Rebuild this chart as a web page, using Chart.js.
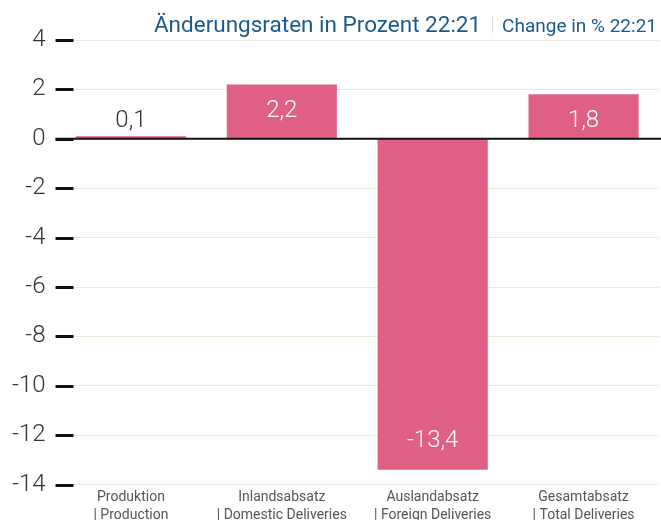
<!DOCTYPE html>
<html><head><meta charset="utf-8">
<script src="https://cdn.jsdelivr.net/npm/chart.js@4/dist/chart.umd.min.js"></script>
<style>html,body{margin:0;padding:0;background:#fff}#wrap{width:661px;height:520px;position:relative}</style>
</head><body><div id="wrap"><canvas id="c" width="661" height="520"></canvas></div>
<script>
const categories = [['Produktion','| Production'],['Inlandsabsatz','| Domestic Deliveries'],['Auslandabsatz','| Foreign Deliveries'],['Gesamtabsatz','| Total Deliveries']];
const changeValues = [0.1, 2.2, -13.4, 1.8];
const yTicks = [4, 2, 0, -2, -4, -6, -8, -10, -12, -14];
const titleMain = 'Änderungsraten in Prozent 22:21';
const titleSub = 'Change in % 22:21';

const FONT = 'Roboto';
const barColor = '#e06085';

const deco = {
  id: 'deco',
  afterDraw(chart) {
    const ctx = chart.ctx, y = chart.scales.y, ca = chart.chartArea;
    ctx.save();
    // y tick marks
    ctx.strokeStyle = '#111'; ctx.lineWidth = 3;
    y.ticks.forEach(t => {
      const py = Math.round(y.getPixelForValue(t.value)) + 0.5;
      ctx.beginPath(); ctx.moveTo(ca.left, py); ctx.lineTo(ca.left + 18, py); ctx.stroke();
    });
    // zero line
    ctx.lineWidth = 2;
    const z = y.getPixelForValue(0);
    ctx.beginPath(); ctx.moveTo(ca.left, z); ctx.lineTo(chart.width, z); ctx.stroke();
    // data labels
    const meta = chart.getDatasetMeta(0);
    ctx.font = '300 24px ' + FONT;
    ctx.textAlign = 'center';
    meta.data.forEach((bar, i) => {
      const v = changeValues[i];
      const txt = String(v).replace('.', ',');
      const h = Math.abs(bar.base - bar.y);
      if (h < 30) {
        ctx.fillStyle = '#333'; ctx.textBaseline = 'bottom';
        ctx.fillText(txt, bar.x, bar.y - 3);
      } else if (v >= 0) {
        ctx.fillStyle = '#fff'; ctx.textBaseline = 'middle';
        ctx.fillText(txt, bar.x, bar.y + 27);
      } else {
        ctx.fillStyle = '#fff'; ctx.textBaseline = 'middle';
        ctx.fillText(txt, bar.x, bar.y - 29);
      }
    });
    // title
    ctx.textBaseline = 'alphabetic'; ctx.textAlign = 'left';
    ctx.font = '400 19px ' + FONT;
    const subW = ctx.measureText(titleSub).width;
    ctx.font = '400 22.5px ' + FONT;
    const mainW = ctx.measureText(titleMain).width;
    const right = 657, gap = 21;
    const xSub = right - subW;
    const xMain = xSub - gap - mainW;
    ctx.fillStyle = '#1c5a8c';
    ctx.fillText(titleMain, xMain, 32);
    ctx.font = '400 19px ' + FONT;
    ctx.fillText(titleSub, xSub, 32);
    ctx.strokeStyle = '#ddd'; ctx.lineWidth = 1;
    const xp = Math.round(xSub - gap / 2) + 0.5;
    ctx.beginPath(); ctx.moveTo(xp, 16); ctx.lineTo(xp, 33); ctx.stroke();
    ctx.restore();
  }
};

new Chart(document.getElementById('c'), {
  type: 'bar',
  data: { labels: categories, datasets: [{ data: changeValues, backgroundColor: barColor, barPercentage: 0.73, categoryPercentage: 1 }] },
  options: {
    responsive: false, animation: false,
    layout: { padding: { top: 40, right: 2, left: 2, bottom: -9 } },
    plugins: { legend: { display: false }, tooltip: { enabled: false }, title: { display: false } },
    scales: {
      x: {
        grid: { display: false, drawTicks: false }, border: { display: false },
        ticks: { color: '#555', font: { family: FONT, size: 14, weight: 400, lineHeight: 1.3 }, padding: 4, maxRotation: 0, autoSkip: false }
      },
      y: {
        min: -14, max: 4,
        afterBuildTicks: ax => { ax.ticks = yTicks.map(v => ({ value: v })); },
        grid: { color: '#ebe8dc', lineWidth: 1, drawTicks: false },
        border: { display: false },
        ticks: { color: '#333', font: { family: FONT, size: 24, weight: 300 }, padding: 10, callback: v => String(v) }
      }
    }
  },
  plugins: [deco]
});
</script></body></html>
